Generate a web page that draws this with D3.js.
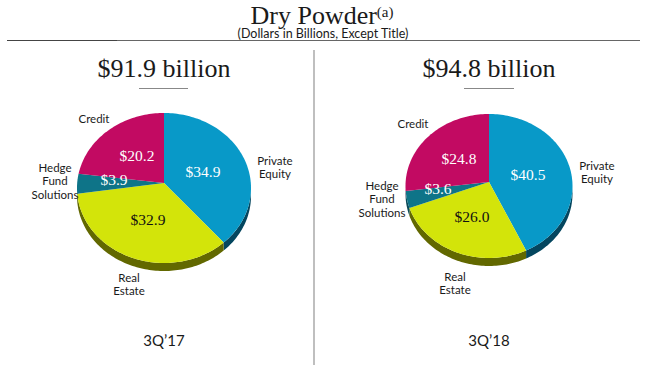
<!DOCTYPE html>
<html>
<head>
<meta charset="utf-8">
<script src="https://cdn.jsdelivr.net/npm/d3@7"></script>
<style>
html, body { margin: 0; padding: 0; background: #fff; }
svg { display: block; }
.serif { font-family: "Liberation Serif", serif; fill: #1a1a1a; }
.sans { font-family: Lato, "Open Sans", sans-serif; fill: #1a1a1a; }
</style>
</head>
<body>
<div id="chart"></div>
<script>
var categories = ["Private Equity", "Real Estate", "Hedge Fund Solutions", "Credit"];
var values17 = [34.9, 32.9, 3.9, 20.2];
var values18 = [40.5, 26.0, 3.6, 24.8];
var valueLabels17 = ["$34.9", "$32.9", "$3.9", "$20.2"];
var valueLabels18 = ["$40.5", "$26.0", "$3.6", "$24.8"];
var totals = ["$91.9 billion", "$94.8 billion"];
var periods = ["3Q\u201917", "3Q\u201918"];

var topColors = ["#0899c8", "#d3e40a", "#0e7488", "#c20a62"];
var wallColors = ["#04465f", "#626800", "#0a4a58", "#7a063e"];
var labelColors = ["#fff", "#111", "#fff", "#fff"];

var width = 650, height = 365;
var svg = d3.select("#chart").append("svg").attr("width", width).attr("height", height);

// pie geometry and where the labels sit, one entry per panel
var panels = [
    {
        values: values17, valueLabels: valueLabels17, total: totals[0], period: periods[0],
        cx: 164, cy: 188, rx: 87, ry: 75, apexY: 183, depth: 8,
        totalX: 164, ruleX: [139, 188],
        valuePos: [[203, 172], [148, 220], [114, 180], [137, 156]],
        catPos: [[275, 161], [129, 278], [55, 168], [94, 119]]
    },
    {
        values: values18, valueLabels: valueLabels18, total: totals[1], period: periods[1],
        cx: 489, cy: 186, rx: 83.5, ry: 72, apexY: 182, depth: 8,
        totalX: 489, ruleX: [464, 514],
        valuePos: [[528, 175], [472, 217], [438, 189], [459, 159]],
        catPos: [[597, 166], [455, 277], [382, 186], [413, 124]]
    }
];

// the label lines, wrapped like the slide does it
var catLines = [["Private", "Equity"], ["Real", "Estate"], ["Hedge", "Fund", "Solutions"], ["Credit"]];

var pie = d3.pie().sort(null);
var line = d3.line();

function rimPoints(p, a0, a1, dy) {
    var n = Math.max(2, Math.ceil((a1 - a0) * 40));
    return d3.range(n + 1).map(function(i) {
        var a = a0 + (a1 - a0) * i / n;
        return [p.cx + p.rx * Math.sin(a), p.cy - p.ry * Math.cos(a) + dy];
    });
}

// header
svg.append("text").attr("class", "serif")
    .attr("x", 322).attr("y", 24)
    .attr("text-anchor", "middle")
    .attr("font-size", 26)
    .text("Dry Powder")
    .append("tspan")
    .attr("font-size", 15)
    .attr("dy", -7)
    .text("(a)");

svg.append("text").attr("class", "sans")
    .attr("x", 323).attr("y", 38)
    .attr("text-anchor", "middle")
    .attr("font-size", 12.5)
    .text("(Dollars in Billions, Except Title)");

svg.append("line").attr("x1", 7).attr("x2", 640).attr("y1", 40.5).attr("y2", 40.5)
    .attr("stroke", "#666").attr("stroke-width", 1);
svg.append("line").attr("x1", 7).attr("x2", 117).attr("y1", 40.5).attr("y2", 40.5)
    .attr("stroke", "#444").attr("stroke-width", 1.2);
svg.append("line").attr("x1", 314).attr("x2", 314).attr("y1", 50).attr("y2", 365)
    .attr("stroke", "#aaa").attr("stroke-width", 1.5);

panels.forEach(function(p) {
    var g = svg.append("g");
    var arcs = pie(p.values);

    g.append("text").attr("class", "serif")
        .attr("x", p.totalX).attr("y", 77)
        .attr("text-anchor", "middle")
        .attr("font-size", 26)
        .text(p.total);

    g.append("line")
        .attr("x1", p.ruleX[0]).attr("x2", p.ruleX[1])
        .attr("y1", 88.5).attr("y2", 88.5)
        .attr("stroke", "#888").attr("stroke-width", 1);

    // side wall, only the front half of the rim shows
    arcs.forEach(function(d, i) {
        var a0 = Math.max(d.startAngle, Math.PI / 2);
        var a1 = Math.min(d.endAngle, Math.PI * 1.5);
        if (a1 <= a0) return;
        var pts = rimPoints(p, a0, a1, 0).concat(rimPoints(p, a0, a1, p.depth).reverse());
        g.append("path")
            .attr("d", line(pts) + "Z")
            .attr("fill", wallColors[i]);
    });

    // top face
    arcs.forEach(function(d, i) {
        var pts = [[p.cx, p.apexY]].concat(rimPoints(p, d.startAngle, d.endAngle, 0));
        g.append("path")
            .attr("d", line(pts) + "Z")
            .attr("fill", topColors[i]);
    });

    g.selectAll(".value")
        .data(p.valueLabels)
        .enter().append("text")
        .attr("class", "serif value")
        .attr("x", function(d, i) { return p.valuePos[i][0]; })
        .attr("y", function(d, i) { return p.valuePos[i][1]; })
        .attr("dy", ".33em")
        .attr("text-anchor", "middle")
        .attr("font-size", 15.5)
        .style("fill", function(d, i) { return labelColors[i]; })
        .text(function(d) { return d; });

    categories.forEach(function(c, i) {
        catLines[i].forEach(function(txt, j) {
            g.append("text").attr("class", "sans")
                .attr("x", p.catPos[i][0])
                .attr("y", p.catPos[i][1] + j * 13.3)
                .attr("dy", ".35em")
                .attr("text-anchor", "middle")
                .attr("font-size", 11.5)
                .text(txt);
        });
    });

    g.append("text").attr("class", "sans")
        .attr("x", p.cx).attr("y", 346)
        .attr("text-anchor", "middle")
        .attr("font-size", 15)
        .text(p.period);
});
</script>
</body>
</html>
